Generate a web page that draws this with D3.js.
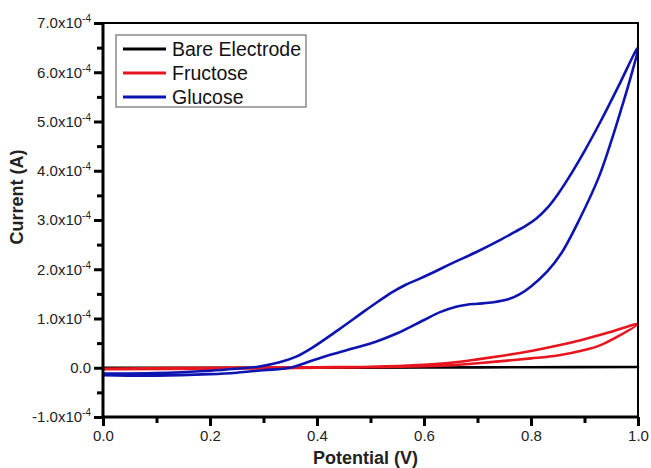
<!DOCTYPE html>
<html>
<head>
<meta charset="utf-8">
<script src="https://cdn.jsdelivr.net/npm/d3@7"></script>
<style>
  body { margin: 0; background: #fff; }
  svg { display: block; font-family: Arial, "Liberation Sans", sans-serif; }
</style>
</head>
<body>
<div id="chart"></div>
<script>
// series names (legend order)
const seriesNames = ["Bare Electrode", "Fructose", "Glucose"];

// potential (V) / current (A) going round each CV loop
const bareV = [0, 0.2, 0.4, 0.6, 0.8, 1.0, 0.8, 0.6, 0.4, 0.2, 0];
const bareI = [0, 0, 0, 0.05e-5, 0.1e-5, 0.15e-5, 0.1e-5, 0.05e-5, 0, 0, 0];

const fructoseV = [0, 0.2, 0.4, 0.5, 0.6, 0.65, 0.7, 0.75, 0.8, 0.85, 0.9, 0.95, 1.0,
                   0.96, 0.93, 0.9, 0.85, 0.8, 0.75, 0.7, 0.65, 0.6, 0.5, 0.4, 0.2, 0];
const fructoseI = [-0.2e-5, 0, 0.1e-5, 0.2e-5, 0.6e-5, 1.0e-5, 1.7e-5, 2.5e-5, 3.4e-5, 4.5e-5, 5.8e-5, 7.3e-5, 8.9e-5,
                   6.2e-5, 4.6e-5, 3.6e-5, 2.5e-5, 1.9e-5, 1.4e-5, 0.9e-5, 0.5e-5, 0.3e-5, 0.1e-5, 0, -0.2e-5, -0.3e-5];

const glucoseV = [0, 0.1, 0.2, 0.25, 0.29, 0.33, 0.36, 0.39, 0.44, 0.49, 0.515, 0.54, 0.565, 0.59, 0.62, 0.65, 0.70, 0.74, 0.77, 0.79, 0.81, 0.83, 0.85, 0.87, 0.90, 0.93, 0.965, 1.0,
                  0.985, 0.97, 0.95, 0.926, 0.89, 0.857, 0.83, 0.80, 0.78, 0.76, 0.73, 0.70, 0.68, 0.66, 0.63, 0.60, 0.55, 0.51, 0.47, 0.43, 0.39, 0.35, 0.3, 0.25, 0.2, 0.1, 0];
const glucoseI = [-1.2e-5, -1.1e-5, -0.6e-5, -0.2e-5, 0.2e-5, 1.1e-5, 2.2e-5, 4.0e-5, 7.7e-5, 11.6e-5, 13.5e-5, 15.3e-5, 16.8e-5, 18.0e-5, 19.5e-5, 21.1e-5, 23.6e-5, 25.8e-5, 27.6e-5, 28.8e-5, 30.3e-5, 32.4e-5, 35.2e-5, 38.5e-5, 44e-5, 50e-5, 57.5e-5, 65e-5,
                  58.5e-5, 53e-5, 46e-5, 38.5e-5, 30e-5, 23.3e-5, 19.5e-5, 16.5e-5, 15.0e-5, 14.0e-5, 13.3e-5, 13.0e-5, 12.8e-5, 12.4e-5, 11.3e-5, 9.7e-5, 7.0e-5, 5.3e-5, 4.0e-5, 2.8e-5, 1.4e-5, 0, -0.5e-5, -1.0e-5, -1.3e-5, -1.6e-5, -1.5e-5];

// ticks
const xTicks = [0, 0.2, 0.4, 0.6, 0.8, 1.0];
const xMinorTicks = [0.1, 0.3, 0.5, 0.7, 0.9];
const xTickLabels = ["0.0", "0.2", "0.4", "0.6", "0.8", "1.0"];
const yTicks = [-1e-4, 0, 1e-4, 2e-4, 3e-4, 4e-4, 5e-4, 6e-4, 7e-4];
const yMinorTicks = [-0.5e-4, 0.5e-4, 1.5e-4, 2.5e-4, 3.5e-4, 4.5e-4, 5.5e-4, 6.5e-4];
const yTickLabels = ["-1.0x10^-4", "0.0", "1.0x10^-4", "2.0x10^-4", "3.0x10^-4",
                     "4.0x10^-4", "5.0x10^-4", "6.0x10^-4", "7.0x10^-4"];

const colors = ["#000000", "#e8141e", "#0d14b0"];

const dimensions = {
  width: 651,
  height: 468,
  margin: { top: 23, right: 13, bottom: 51, left: 103 },
};
dimensions.boundedWidth = dimensions.width - dimensions.margin.left - dimensions.margin.right;
dimensions.boundedHeight = dimensions.height - dimensions.margin.top - dimensions.margin.bottom;

const wrapper = d3.select("#chart")
  .append("svg")
  .attr("width", dimensions.width)
  .attr("height", dimensions.height);

const bounds = wrapper.append("g")
  .attr("transform", `translate(${dimensions.margin.left},${dimensions.margin.top})`);

const xScale = d3.scaleLinear().domain([0, 1]).range([0, dimensions.boundedWidth]);
const yScale = d3.scaleLinear().domain([-1e-4, 7e-4]).range([dimensions.boundedHeight, 0]);

// curves
const series = [
  bareV.map((v, i) => [v, bareI[i]]),
  fructoseV.map((v, i) => [v, fructoseI[i]]),
  glucoseV.map((v, i) => [v, glucoseI[i]]),
];

const lineGen = d3.line()
  .x((d) => xScale(d[0]))
  .y((d) => yScale(d[1]))
  .curve(d3.curveCatmullRom.alpha(0.5));

bounds.append("g")
  .selectAll("path")
  .data(series)
  .join("path")
  .attr("d", lineGen)
  .attr("fill", "none")
  .attr("stroke", (d, i) => colors[i])
  .attr("stroke-width", 2.6)
  .attr("stroke-linejoin", "round");

// frame: thin top / right, heavy left / bottom
const frame = bounds.append("g").attr("fill", "#000");
frame.append("rect")
  .attr("x", -1).attr("y", -1)
  .attr("width", dimensions.boundedWidth + 2).attr("height", 2);
frame.append("rect")
  .attr("x", dimensions.boundedWidth - 1).attr("y", -1)
  .attr("width", 2).attr("height", dimensions.boundedHeight + 2);
frame.append("rect")
  .attr("x", -1.5).attr("y", -1)
  .attr("width", 3).attr("height", dimensions.boundedHeight + 2.5);
frame.append("rect")
  .attr("x", -1.5).attr("y", dimensions.boundedHeight - 1.5)
  .attr("width", dimensions.boundedWidth + 2.5).attr("height", 3);

// x axis
const xAxis = bounds.append("g")
  .attr("transform", `translate(0,${dimensions.boundedHeight})`)
  .call(d3.axisBottom(xScale).tickValues(xTicks).tickSize(9).tickSizeOuter(0)
    .tickFormat((d, i) => xTickLabels[i]));
xAxis.append("g")
  .call(d3.axisBottom(xScale).tickValues(xMinorTicks).tickSize(6).tickFormat(""))
  .select(".domain").remove();
xAxis.select(".domain").remove();
xAxis.selectAll(".tick line").style("stroke", "#000").style("stroke-width", "3px");
xAxis.selectAll(".tick text")
  .attr("font-size", 15)
  .attr("font-family", "Arial, 'Liberation Sans', sans-serif")
  .attr("fill", "#222")
  .attr("dy", null)
  .attr("y", 24);

// y axis
const yAxis = bounds.append("g")
  .call(d3.axisLeft(yScale).tickValues(yTicks).tickSize(9).tickSizeOuter(0)
    .tickFormat((d, i) => yTickLabels[i]));
yAxis.append("g")
  .call(d3.axisLeft(yScale).tickValues(yMinorTicks).tickSize(6).tickFormat(""))
  .select(".domain").remove();
yAxis.select(".domain").remove();
yAxis.selectAll(".tick line").style("stroke", "#000").style("stroke-width", "3px");
yAxis.selectAll(".tick text")
  .attr("font-size", 15)
  .attr("font-family", "Arial, 'Liberation Sans', sans-serif")
  .attr("fill", "#222")
  .attr("x", -12)
  .each(function () {
    const self = d3.select(this);
    const parts = self.text().split("^");
    if (parts.length < 2) return;
    self.text("");
    self.append("tspan").text(parts[0]);
    self.append("tspan")
      .attr("font-size", 10)
      .attr("dy", "-0.6em")
      .text(parts[1]);
  });

// axis titles
wrapper.append("text")
  .attr("x", dimensions.margin.left + dimensions.boundedWidth / 2 - 5)
  .attr("y", 464)
  .attr("text-anchor", "middle")
  .attr("font-size", 18)
  .attr("font-weight", "bold")
  .attr("fill", "#222")
  .text("Potential (V)");

wrapper.append("text")
  .attr("transform", "translate(23,197) rotate(-90)")
  .attr("text-anchor", "middle")
  .attr("font-size", 18)
  .attr("font-weight", "bold")
  .attr("fill", "#222")
  .text("Current (A)");

// legend
const legend = wrapper.append("g");
legend.append("rect")
  .attr("x", 116)
  .attr("y", 35)
  .attr("width", 190)
  .attr("height", 72)
  .attr("fill", "#fff")
  .attr("stroke", "#8a8a8a")
  .attr("stroke-width", 1.5);

const legendRows = legend.selectAll("g.row")
  .data(seriesNames)
  .join("g")
  .attr("class", "row")
  .attr("transform", (d, i) => `translate(0,${49 + i * 24})`);
legendRows.append("line")
  .attr("x1", 123)
  .attr("x2", 166)
  .attr("stroke", (d, i) => colors[i])
  .attr("stroke-width", 3);
legendRows.append("text")
  .attr("x", 172)
  .attr("dy", "0.35em")
  .attr("font-size", 19.5)
  .attr("fill", "#111")
  .text((d) => d);
</script>
</body>
</html>
